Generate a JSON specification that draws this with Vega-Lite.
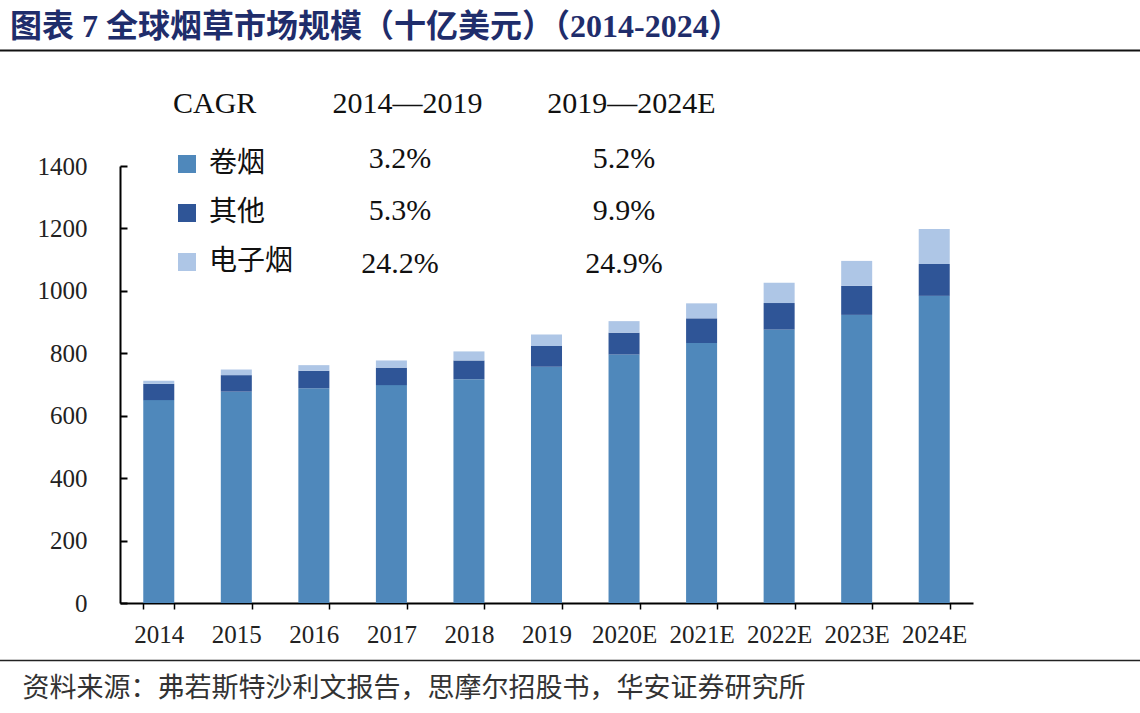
{
  "$schema": "https://vega.github.io/schema/vega-lite/v6.json",
  "width": 853,
  "height": 437,
  "autosize": {"type": "none"},
  "padding": {"left": 120, "top": 166, "right": 167, "bottom": 110},
  "background": "white",
  "config": {"view": {"stroke": null}, "font": "Liberation Serif"},
  "title": {
    "text": "图表 7 全球烟草市场规模（十亿美元）（2014-2024）",
    "anchor": "start",
    "frame": "group",
    "dx": -110,
    "offset": 6,
    "fontSize": 32,
    "font": "Liberation Serif, Noto Sans CJK SC",
    "fontWeight": "bold",
    "color": "#1f2d6b"
  },
  "resolve": {
    "scale": {"x": "independent", "y": "independent"},
    "axis": {"x": "independent", "y": "independent"}
  },
  "layer": [
    {
      "data": {
        "values": [
          {"year": "2014", "type": "卷烟", "value": 650},
          {"year": "2014", "type": "其他", "value": 52},
          {"year": "2014", "type": "电子烟", "value": 10},
          {"year": "2015", "type": "卷烟", "value": 677},
          {"year": "2015", "type": "其他", "value": 53},
          {"year": "2015", "type": "电子烟", "value": 18},
          {"year": "2016", "type": "卷烟", "value": 688},
          {"year": "2016", "type": "其他", "value": 56},
          {"year": "2016", "type": "电子烟", "value": 18},
          {"year": "2017", "type": "卷烟", "value": 698},
          {"year": "2017", "type": "其他", "value": 56},
          {"year": "2017", "type": "电子烟", "value": 23},
          {"year": "2018", "type": "卷烟", "value": 717},
          {"year": "2018", "type": "其他", "value": 60},
          {"year": "2018", "type": "电子烟", "value": 29},
          {"year": "2019", "type": "卷烟", "value": 757},
          {"year": "2019", "type": "其他", "value": 66},
          {"year": "2019", "type": "电子烟", "value": 37},
          {"year": "2020E", "type": "卷烟", "value": 796},
          {"year": "2020E", "type": "其他", "value": 70},
          {"year": "2020E", "type": "电子烟", "value": 37},
          {"year": "2021E", "type": "卷烟", "value": 833},
          {"year": "2021E", "type": "其他", "value": 79},
          {"year": "2021E", "type": "电子烟", "value": 48},
          {"year": "2022E", "type": "卷烟", "value": 876},
          {"year": "2022E", "type": "其他", "value": 85},
          {"year": "2022E", "type": "电子烟", "value": 65},
          {"year": "2023E", "type": "卷烟", "value": 923},
          {"year": "2023E", "type": "其他", "value": 93},
          {"year": "2023E", "type": "电子烟", "value": 80},
          {"year": "2024E", "type": "卷烟", "value": 984},
          {"year": "2024E", "type": "其他", "value": 102},
          {"year": "2024E", "type": "电子烟", "value": 112}
        ]
      },
      "transform": [
        {"window": [{"op": "row_number", "as": "stackRank"}], "groupby": ["year"]}
      ],
      "mark": {"type": "bar"},
      "encoding": {
        "x": {
          "field": "year",
          "type": "ordinal",
          "sort": null,
          "scale": {"paddingInner": 0.6, "paddingOuter": 0.3},
          "axis": {
            "title": "资料来源：弗若斯特沙利文报告，思摩尔招股书，华安证券研究所",
            "titleX": -98,
            "titleY": 85,
            "titleAlign": "left",
            "titleBaseline": "middle",
            "titleAngle": 0,
            "titleFont": "Noto Sans CJK SC",
            "titleFontSize": 27,
            "titleFontWeight": "normal",
            "titleColor": "#333333",
            "labelAngle": 0,
            "labelFont": "Liberation Serif",
            "labelFontSize": 25,
            "labelColor": "#222222",
            "labelPadding": 13,
            "tickBand": "extent",
            "tickSize": 6,
            "tickColor": "black",
            "tickWidth": 1.5,
            "domainColor": "black",
            "domainWidth": 2
          }
        },
        "y": {
          "field": "value",
          "type": "quantitative",
          "stack": "zero",
          "scale": {"domain": [0, 1400], "nice": false},
          "axis": {
            "values": [0, 200, 400, 600, 800, 1000, 1200, 1400],
            "format": "d",
            "grid": false,
            "title": null,
            "tickSize": -7,
            "tickColor": "black",
            "tickWidth": 2,
            "domainColor": "black",
            "domainWidth": 2,
            "labelFont": "Liberation Serif",
            "labelFontSize": 25,
            "labelColor": "#222222",
            "labelPadding": 40
          }
        },
        "color": {
          "field": "type",
          "type": "nominal",
          "sort": ["卷烟", "其他", "电子烟"],
          "scale": {"domain": ["卷烟", "其他", "电子烟"], "range": ["#4F88BB", "#2F5597", "#AEC6E6"]},
          "legend": {
            "orient": "none",
            "legendX": 53,
            "legendY": -77,
            "title": "CAGR",
            "titleFont": "Liberation Serif",
            "titleFontSize": 30,
            "titleFontWeight": "normal",
            "titleColor": "#111111",
            "titlePadding": 31,
            "symbolType": "square",
            "symbolSize": 324,
            "symbolStrokeWidth": 0,
            "labelFont": "Noto Sans CJK SC",
            "labelFontSize": 28,
            "labelColor": "#111111",
            "labelOffset": 8,
            "rowPadding": 21
          }
        },
        "order": {"field": "stackRank", "type": "quantitative", "sort": "ascending"}
      }
    },
    {
      "data": {
        "values": [
          {"period": "2014—2019", "series": "卷烟", "cagr": "3.2%"},
          {"period": "2014—2019", "series": "其他", "cagr": "5.3%"},
          {"period": "2014—2019", "series": "电子烟", "cagr": "24.2%"}
        ]
      },
      "mark": {"type": "text", "font": "Liberation Serif", "fontSize": 30, "color": "#111111", "baseline": "middle"},
      "encoding": {
        "x": {
          "field": "period",
          "type": "nominal",
          "sort": null,
          "scale": {"type": "point", "domain": ["p0", "p1", "2014—2019", "2019—2024E", "p4", "p5", "p6"], "range": [-168, 1176], "padding": 0},
          "axis": {
            "orient": "top",
            "values": ["2014—2019", "2019—2024E"],
            "offset": 116,
            "title": null,
            "domain": true,
            "domainColor": "#111111",
            "domainWidth": 2,
            "ticks": false,
            "tickSize": 0,
            "labelAngle": 0,
            "labelOffset": 7,
            "labelFont": "Liberation Serif",
            "labelFontSize": 30,
            "labelColor": "#111111",
            "labelBaseline": "middle",
            "labelPadding": -53
          }
        },
        "y": {
          "field": "series",
          "type": "nominal",
          "sort": null,
          "scale": {"type": "point", "domain": ["卷烟", "其他", "电子烟"], "range": [-7.5, 97.5], "padding": 0},
          "axis": null
        },
        "text": {"field": "cagr"}
      }
    },
    {
      "data": {
        "values": [
          {"period": "2019—2024E", "series": "卷烟", "cagr": "5.2%"},
          {"period": "2019—2024E", "series": "其他", "cagr": "9.9%"},
          {"period": "2019—2024E", "series": "电子烟", "cagr": "24.9%"}
        ]
      },
      "mark": {"type": "text", "font": "Liberation Serif", "fontSize": 30, "color": "#111111", "baseline": "middle"},
      "encoding": {
        "x": {
          "field": "period",
          "type": "nominal",
          "sort": null,
          "scale": {"type": "point", "domain": ["p0", "p1", "2014—2019", "2019—2024E", "p4", "p5", "p6"], "range": [-168, 1176], "padding": 0},
          "axis": {
            "orient": "bottom",
            "offset": 57,
            "title": null,
            "domain": true,
            "domainColor": "#222222",
            "domainWidth": 1.5,
            "ticks": false,
            "labels": false
          }
        },
        "y": {
          "field": "series",
          "type": "nominal",
          "sort": null,
          "scale": {"type": "point", "domain": ["卷烟", "其他", "电子烟"], "range": [-7.5, 97.5], "padding": 0},
          "axis": null
        },
        "text": {"field": "cagr"}
      }
    }
  ]
}
